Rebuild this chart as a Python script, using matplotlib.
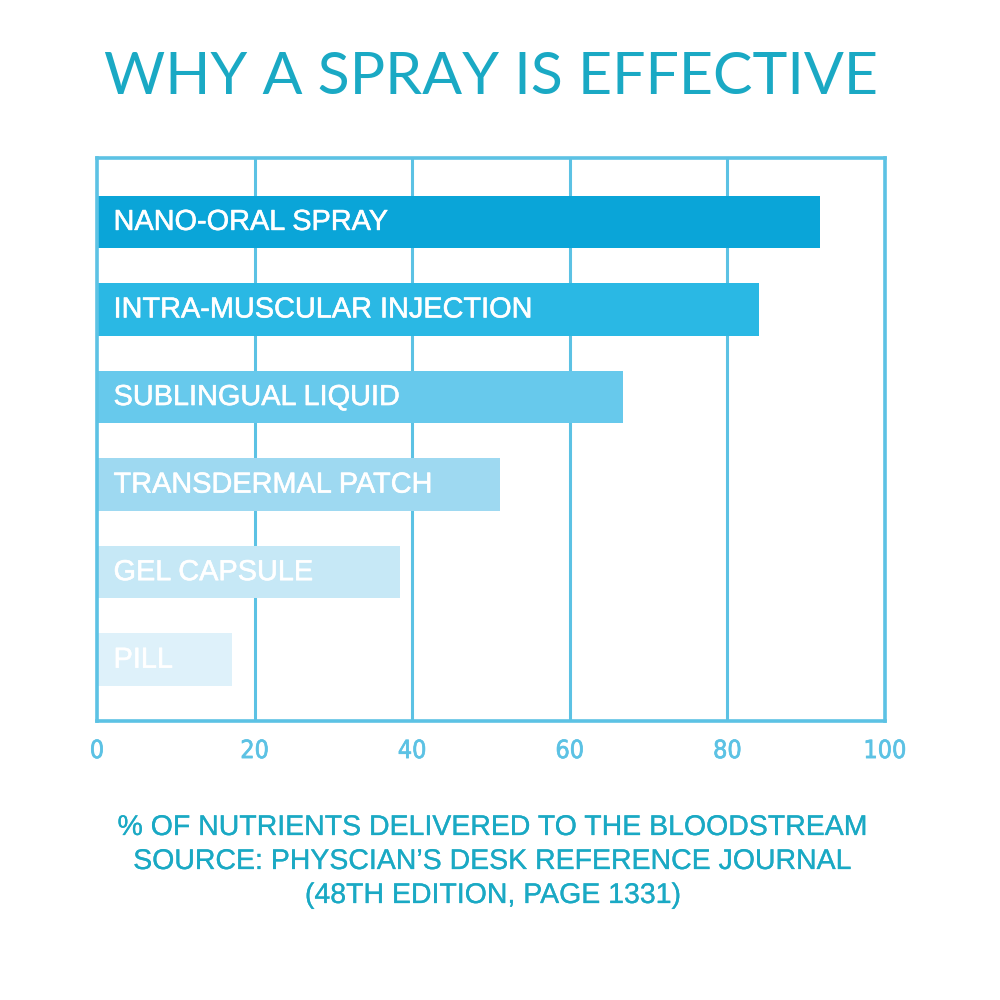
import matplotlib
matplotlib.use("Agg")
import matplotlib.pyplot as plt
import matplotlib.patheffects as pe

categories = ["NANO-ORAL SPRAY", "INTRA-MUSCULAR INJECTION", "SUBLINGUAL LIQUID",
              "TRANSDERMAL PATCH", "GEL CAPSULE", "PILL"]
values = [91.8, 84.0, 66.7, 51.2, 38.5, 17.1]
bar_colors = ["#0aa5d8", "#2ab8e4", "#67c9ec", "#9ed9f1", "#c6e8f6", "#def1fa"]
xticks = [0, 20, 40, 60, 80, 100]

line_c = "#5cc2e4"
teal = "#1aa9c4"

fig = plt.figure(figsize=(10, 10), dpi=100)
ax = fig.add_axes([0.097, 0.279, 0.788, 0.563])

y = list(range(len(categories)))
ax.barh(y, values, height=0.6, color=bar_colors, zorder=2)
ax.set_ylim(5.70, -0.73)
ax.set_xlim(0, 100)

for yi, cat in zip(y, categories):
    ax.text(2.1, yi, cat, color="white", fontsize=20.8, fontfamily="Liberation Sans",
            va="center", ha="left", zorder=3,
            path_effects=[pe.withStroke(linewidth=0.4, foreground="white")])

for xv in xticks[1:-1]:
    ax.axvline(xv, color=line_c, lw=2.2, zorder=1)
for s in ax.spines.values():
    s.set_color(line_c)
    s.set_linewidth(2.6)

ax.set_yticks([])
ax.set_xticks(xticks)
ax.tick_params(axis="x", length=0, pad=13, labelsize=18, colors=line_c)
for lab in ax.get_xticklabels():
    lab.set_fontfamily("DejaVu Sans")
    lab.set_fontstretch("condensed")
    lab.set_path_effects([pe.withStroke(linewidth=0.5, foreground=line_c)])

fig.text(0.491, 0.922, "WHY A SPRAY IS EFFECTIVE", ha="center", va="center",
         fontsize=42.6, color=teal, fontfamily="Lato", fontweight="normal")

foot = ["% OF NUTRIENTS DELIVERED TO THE BLOODSTREAM",
        "SOURCE: PHYSCIAN\u2019S DESK REFERENCE JOURNAL",
        "(48TH EDITION, PAGE 1331)"]
for i, line in enumerate(foot):
    fig.text(0.493, 1 - (828 + 34 * i) / 1000, line, ha="center", va="center",
             fontsize=20.5, color=teal, fontfamily="Liberation Sans",
             path_effects=[pe.withStroke(linewidth=0.2, foreground=teal)])

fig.savefig("out.png", dpi=100, facecolor="white")
